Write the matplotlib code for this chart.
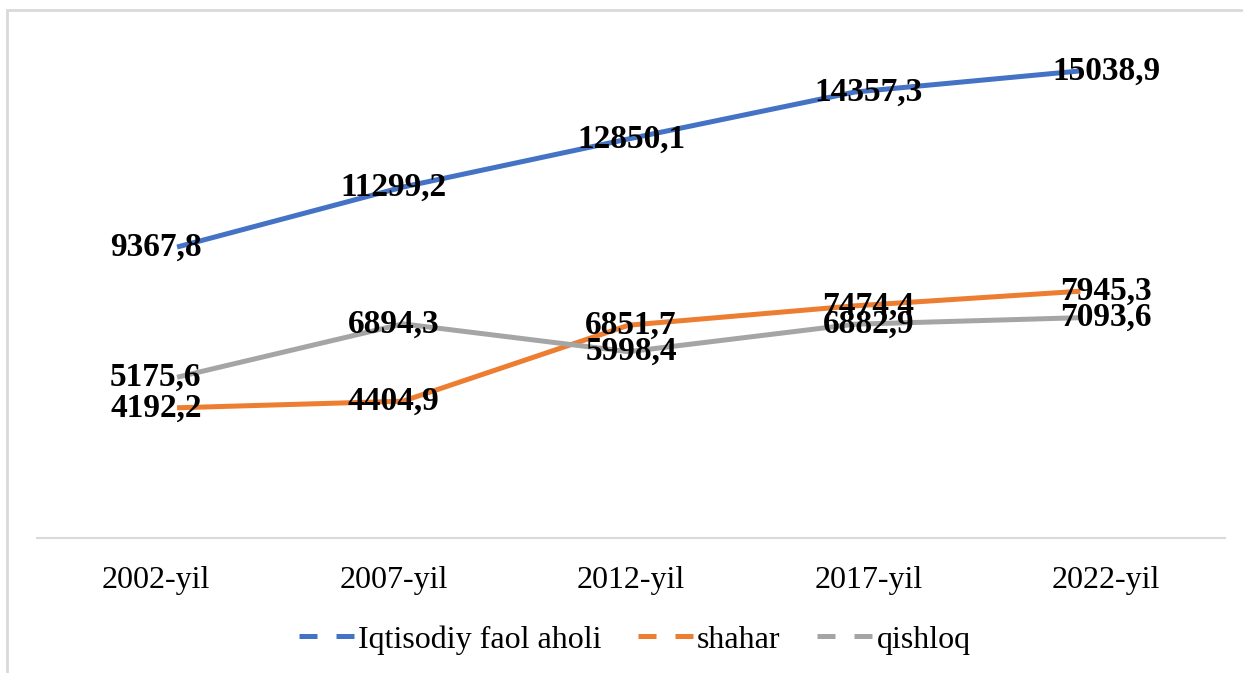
import matplotlib
matplotlib.use("Agg")
from matplotlib import pyplot as plt
from matplotlib.patches import Rectangle

years = ["2002-yil", "2007-yil", "2012-yil", "2017-yil", "2022-yil"]
faol = [9367.8, 11299.2, 12850.1, 14357.3, 15038.9]
shahar = [4192.2, 4404.9, 6851.7, 7474.4, 7945.3]
qishloq = [5175.6, 6894.3, 5998.4, 6882.9, 7093.6]

series = [
    ("Iqtisodiy faol aholi", faol, "#4472C4"),
    ("shahar", shahar, "#ED7D31"),
    ("qishloq", qishloq, "#A5A5A5"),
]

plt.rcParams["font.family"] = ["Liberation Serif", "DejaVu Serif"]

fig = plt.figure(figsize=(12.43, 6.73), dpi=100)
pos = [0.0298, 0.2006, 0.9557, 0.7384]

# the lines in the source sit slightly inside the category centres,
# so they get their own (hidden) axes with a wider x range
axl = fig.add_axes(pos, zorder=1)
axl.set_xlim(-0.62, 4.64)
axl.set_ylim(0, 16000)
axl.axis("off")

ax = fig.add_axes(pos, zorder=2)
ax.patch.set_alpha(0)

# chart frame (light grey, cropped on right/bottom)
fig.patches.append(Rectangle((7 / 1243, -0.1), 1.2, 1 - 10 / 673 + 0.1,
                             transform=fig.transFigure, fill=False,
                             edgecolor="#d9d9d9", linewidth=2, zorder=0))

x = list(range(len(years)))
handles = []
for name, vals, col in series:
    ln, = axl.plot(x, vals, color=col, linewidth=3.6, label=name,
                   solid_capstyle="butt")
    handles.append(ln)

for name, vals, col in series:
    for i, v in enumerate(vals):
        ax.text(i, v, f"{v:.1f}".replace(".", ","), ha="center", va="center",
                fontsize=24, fontweight="bold", color="black")

ax.set_xlim(-0.5, len(years) - 0.5)
ax.set_ylim(0, 16000)
ax.set_xticks(x)
ax.set_xticklabels(years, fontsize=23)
ax.tick_params(axis="x", length=0, pad=20)
ax.set_yticks([])
for s in ["top", "right", "left"]:
    ax.spines[s].set_visible(False)
ax.spines["bottom"].set_color("#d9d9d9")
ax.spines["bottom"].set_linewidth(1.5)

leg = ax.legend(handles=handles, loc="center", bbox_to_anchor=(0.503, -0.205),
                ncol=3, frameon=False, fontsize=23, handlelength=1.75,
                handletextpad=0.1, columnspacing=1.15)
for h in leg.get_lines():
    h.set_linestyle((0, (3.6, 3.8)))
    h.set_linewidth(3.6)

fig.savefig("out.png", dpi=100)
